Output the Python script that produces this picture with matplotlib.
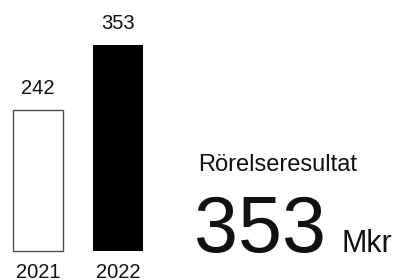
import matplotlib
matplotlib.use("Agg")
import matplotlib.pyplot as plt

plt.rcParams["font.family"] = ["Liberation Sans", "DejaVu Sans"]

years = ["2021", "2022"]
values = [242, 353]
title = "Rörelseresultat"
headline = "353"
unit = "Mkr"

W, H = 398, 280
fig = plt.figure(figsize=(W / 100, H / 100), dpi=100)
ax = fig.add_axes([0, 0, 1, 1])
# pixel layout: bar centres at 38 and 118 px, baseline 29 px from bottom
ax.set_xlim(-38 / 80, (W - 38) / 80)
ax.set_ylim(-29 / 0.5835, (H - 29) / 0.5835)
ax.axis("off")

x = list(range(len(values)))
ax.bar(x[0], values[0], width=0.625, color="white", edgecolor="#4a4f5a", linewidth=1.0)
ax.bar(x[1], values[1], width=0.625, color="black", edgecolor="black", linewidth=0)

for xi, v, yr in zip(x, values, years):
    ax.annotate(str(v), (xi, v), xytext=(0, 16), textcoords="offset pixels",
                ha="center", va="baseline", fontsize=14.5, color="#111")
    ax.annotate(yr, (xi, 0), xytext=(0, -27.5), textcoords="offset pixels",
                ha="center", va="baseline", fontsize=14.5, color="#111")

fig.text(198 / W, 109 / H, title, ha="left", va="baseline", fontsize=17, color="#111")
fig.text(194 / W, 28 / H, headline, ha="left", va="baseline", fontsize=57, color="#111")
fig.text(342 / W, 28 / H, unit, ha="left", va="baseline", fontsize=22, color="#111")

fig.savefig("out.png", dpi=100)
